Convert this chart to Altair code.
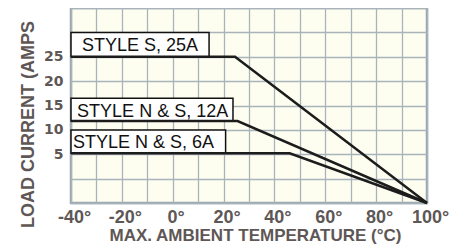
import altair as alt
import pandas as pd

# Series (temperature °C, load current A)
series = ["STYLE S, 25A", "STYLE N & S, 12A", "STYLE N & S, 6A"]
temps = [[-40, 24.5, 100], [-40, 25.5, 100], [-40, 46, 100]]
amps = [[25, 25, -5], [11.8, 11.8, -5], [5.2, 5.2, -5]]

# Label boxes (x from, x to, y from, y to) and label anchor
box_x1 = [-40, -40, -40]
box_x2 = [14.3, 23.7, 20.8]
box_y1 = [25, 11.8, 5.2]
box_y2 = [30, 16.5, 10.0]
text_x = [-35.7, -37.6, -39.2]
text_y = [26.2, 12.6, 6.2]

x_ticks = list(range(-40, 101, 10))
y_ticks = list(range(-5, 36, 5))

rows = []
for s, xs, ys in zip(series, temps, amps):
    for i, (a, b) in enumerate(zip(xs, ys)):
        rows.append({"series": s, "order": i, "temp": a, "amp": b})
lines_df = pd.DataFrame(rows)

boxes_df = pd.DataFrame({
    "series": series, "x1": box_x1, "x2": box_x2, "y1": box_y1, "y2": box_y2,
    "tx": text_x, "ty": text_y,
})

TXT = "#5e5756"
GRID = "#a9b3ba"
xscale = alt.Scale(domain=[-40, 100], nice=False, zero=False)
yscale = alt.Scale(domain=[-5, 35], nice=False, zero=False)

xaxis = alt.Axis(
    values=x_ticks, grid=True, gridColor=GRID, gridWidth=1.3, gridOpacity=1,
    ticks=False, domain=False, labelOverlap=False,
    labelExpr="datum.value % 20 == 0 ? datum.value + '°' : ''",
    labelFont="Liberation Sans", labelFontSize=18, labelFontWeight="bold",
    labelColor=TXT, labelPadding=5, labelOffset=3, labelFlush=False,
    title="MAX. AMBIENT TEMPERATURE (°C)", titleFont="Liberation Sans",
    titleFontSize=17, titleFontWeight="bold", titleColor=TXT,
    titleX=184, titleY=37, titleBaseline="alphabetic", titleAlign="center",
)
yaxis = alt.Axis(
    values=y_ticks, grid=True, gridColor=GRID, gridWidth=1.3, gridOpacity=1,
    ticks=False, domain=False, labelOverlap=False,
    labelExpr="(datum.value >= 5 && datum.value <= 25) ? datum.value + '' : ''",
    labelFont="DejaVu Sans", labelFontSize=14, labelFontWeight="bold",
    labelColor=TXT, labelPadding=8, labelFlush=False, labelBaseline="middle",
    title="LOAD CURRENT (AMPS", titleFont="Liberation Sans",
    titleFontSize=18, titleFontWeight="bold", titleColor=TXT,
    titleX=-38, titleY=116, titleAngle=-90, titleBaseline="alphabetic",
    titleAlign="center",
)

lines = alt.Chart(lines_df).mark_line(color="#1c1c1c", strokeWidth=2.5).encode(
    x=alt.X("temp:Q", scale=xscale, axis=xaxis),
    y=alt.Y("amp:Q", scale=yscale, axis=yaxis),
    detail="series:N",
    order="order:Q",
)

rects = alt.Chart(boxes_df).mark_rect(
    fill="white", stroke="#111111", strokeWidth=1.5
).encode(
    x=alt.X("x1:Q", scale=xscale, axis=xaxis), x2="x2",
    y=alt.Y("y1:Q", scale=yscale, axis=yaxis), y2="y2",
)

texts = alt.Chart(boxes_df).mark_text(
    align="left", baseline="alphabetic", font="Liberation Sans",
    fontSize=18, color="#111111",
).encode(
    x=alt.X("tx:Q", scale=xscale, axis=xaxis),
    y=alt.Y("ty:Q", scale=yscale, axis=yaxis),
    text="series:N",
)

chart = alt.layer(rects, lines, texts).properties(
    width=356, height=195,
    autosize=alt.AutoSizeParams(type="none"),
    padding={"left": 63, "top": 0, "right": 30, "bottom": 41},
    background="white",
).configure_view(
    fill="#fefef0", stroke="#9ba6ae", strokeWidth=2.5,
)

chart.save("out.html", embed_options={"renderer": "svg", "actions": False})
